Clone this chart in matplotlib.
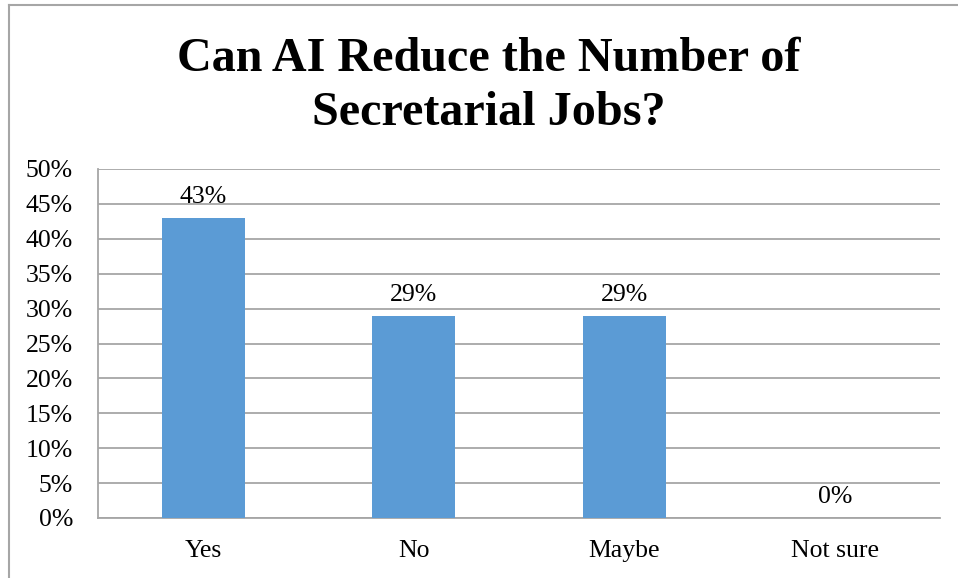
import matplotlib
matplotlib.use("Agg")
import matplotlib.pyplot as plt
from matplotlib.lines import Line2D

categories = ["Yes", "No", "Maybe", "Not sure"]
values = [43, 29, 29, 0]
yticks = [0, 5, 10, 15, 20, 25, 30, 35, 40, 45, 50]
title = "Can AI Reduce the Number of\nSecretarial Jobs?"

plt.rcParams['font.family'] = ['Liberation Serif', 'DejaVu Serif']
W, H = 958, 578
fig = plt.figure(figsize=(W/100, H/100), dpi=100)
ax = fig.add_axes([98/W, 1-518/H, (940-98)/W, (518-169)/H])

x = range(len(categories))
ax.bar(x, values, width=0.395, color="#5B9BD5", zorder=3)
ax.set_xlim(-0.5, len(categories)-0.5)
ax.set_ylim(0, 50)
ax.set_yticks(yticks)
ax.set_yticklabels([f"{v}%" for v in yticks], fontsize=18.5)
ax.set_xticks(list(x))
ax.set_xticklabels(categories, fontsize=18.5)
ax.tick_params(axis='both', length=0)
ax.tick_params(axis='y', pad=18)
ax.tick_params(axis='x', pad=16)
ax.grid(axis='y', color='#a6a6a6', linewidth=1.3, zorder=0)
for s in ['top', 'right']:
    ax.spines[s].set_visible(False)
for s in ['left', 'bottom']:
    ax.spines[s].set_color('#a6a6a6')
    ax.spines[s].set_linewidth(1.3)

for xi, v in zip(x, values):
    ax.annotate(f"{v}%", (xi, v), xytext=(0, 7), textcoords='offset points',
                ha='center', va='bottom', fontsize=18.5)

fig.text(489/W, 1-86/H, title, ha='center', va='center', fontsize=34.7,
         fontweight='bold', linespacing=1.32)

fig.add_artist(Line2D([9/W, 9/W], [0, 1-5/H], color='#a6a6a6', lw=1.5, transform=fig.transFigure))
fig.add_artist(Line2D([9/W, 1], [1-5/H, 1-5/H], color='#a6a6a6', lw=1.5, transform=fig.transFigure))

fig.savefig("out.png", dpi=100)
